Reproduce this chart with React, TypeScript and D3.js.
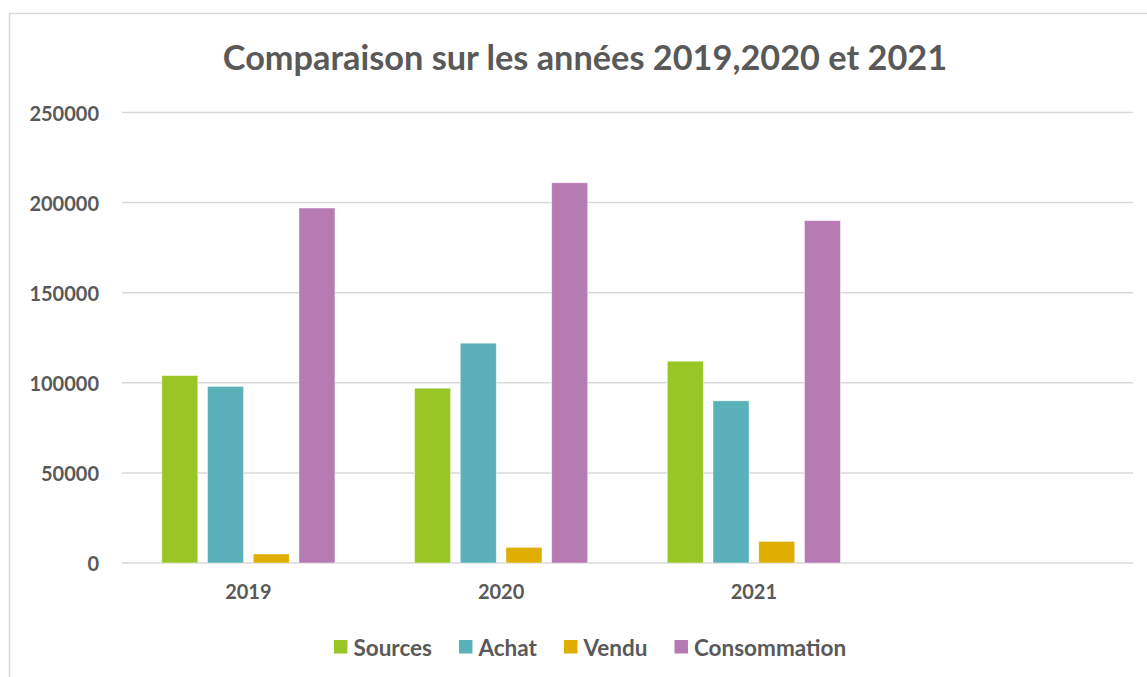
import React, { useEffect, useRef } from 'react';
import * as d3 from 'd3';

const years = ['2019', '2020', '2021', ''];
const seriesNames = ['Sources', 'Achat', 'Vendu', 'Consommation'];
const sources = [104000, 97000, 112000];
const achat = [98000, 122000, 90000];
const vendu = [5000, 8700, 12000];
const consommation = [197000, 211000, 190000];
const yTicks = [0, 50000, 100000, 150000, 200000, 250000];
const colors = ['#99C624', '#5BB1BA', '#E0AE00', '#B67BB3'];

const W = 1147;
const H = 677;
const FONT = 'Lato, "Open Sans", sans-serif';
const TEXT = '#595959';

export default function App() {
  const ref = useRef<SVGSVGElement>(null);

  useEffect(() => {
    const svg = d3.select(ref.current);
    svg.selectAll('*').remove();

    const values = [sources, achat, vendu, consommation];

    // chart frame
    svg.append('rect')
      .attr('x', 9.5).attr('y', 13.5)
      .attr('width', W + 20).attr('height', H + 20)
      .attr('fill', '#fff').attr('stroke', '#d9d9d9').attr('stroke-width', 1.5);

    const x = d3.scaleBand().domain(years).range([122, 1133]);
    const inner = d3.scaleBand().domain(seriesNames)
      .range([39.8, x.bandwidth() - 39.8]).paddingInner(0.212);
    const y = d3.scaleLinear().domain([0, 250000]).range([563, 112.5]);

    // grid
    svg.append('g').selectAll('line').data(yTicks).join('line')
      .attr('x1', 122).attr('x2', 1133)
      .attr('y1', d => y(d)).attr('y2', d => y(d))
      .attr('stroke', '#d9d9d9').attr('stroke-width', 1.5);

    svg.append('g').selectAll('text').data(yTicks).join('text')
      .attr('x', 99).attr('y', d => y(d))
      .attr('text-anchor', 'end').attr('dominant-baseline', 'central')
      .attr('font-family', FONT).attr('font-weight', 700).attr('font-size', 20)
      .attr('fill', TEXT).text(d => String(d));

    // bars
    seriesNames.forEach((s, i) => {
      svg.append('g').selectAll('rect').data(values[i]).join('rect')
        .attr('x', (d, j) => (x(years[j]) as number) + (inner(s) as number))
        .attr('width', inner.bandwidth())
        .attr('y', d => y(d))
        .attr('height', d => y(0) - y(d))
        .attr('fill', colors[i])
        .attr('stroke', '#ffffff').attr('stroke-opacity', 0.6).attr('stroke-width', 0.75);
    });

    // x labels
    svg.append('g').selectAll('text').data(years).join('text')
      .attr('x', d => (x(d) as number) + x.bandwidth() / 2)
      .attr('y', 599)
      .attr('text-anchor', 'middle')
      .attr('font-family', FONT).attr('font-weight', 700).attr('font-size', 20)
      .attr('fill', TEXT).text(d => d);

    // title
    svg.append('text')
      .attr('x', 585).attr('y', 70)
      .attr('text-anchor', 'middle')
      .attr('font-family', FONT).attr('font-weight', 700).attr('font-size', 34.3)
      .attr('fill', TEXT)
      .text('Comparaison sur les années 2019,2020 et 2021');

    // legend
    const lg = svg.append('g');
    let cx = 0;
    seriesNames.forEach((s, i) => {
      const g = lg.append('g').attr('transform', `translate(${cx},0)`);
      g.append('rect').attr('x', 0).attr('y', -7).attr('width', 13.5).attr('height', 13.5)
        .attr('fill', colors[i]);
      const t = g.append('text').attr('x', 19.5).attr('y', 0)
        .attr('dominant-baseline', 'central')
        .attr('font-family', FONT).attr('font-weight', 700).attr('font-size', 22.5)
        .attr('fill', TEXT).text(s);
      const tw = (t.node() as SVGTextElement).getComputedTextLength();
      cx += 19.5 + tw + (i < seriesNames.length - 1 ? 27 : 0);
    });
    lg.attr('transform', `translate(${590 - cx / 2},647)`);
  }, []);

  return (
    <div style={{ position: 'absolute', left: 0, top: 0 }}>
      <svg ref={ref} width={W} height={H} style={{ display: 'block', background: '#fff' }} />
    </div>
  );
}
